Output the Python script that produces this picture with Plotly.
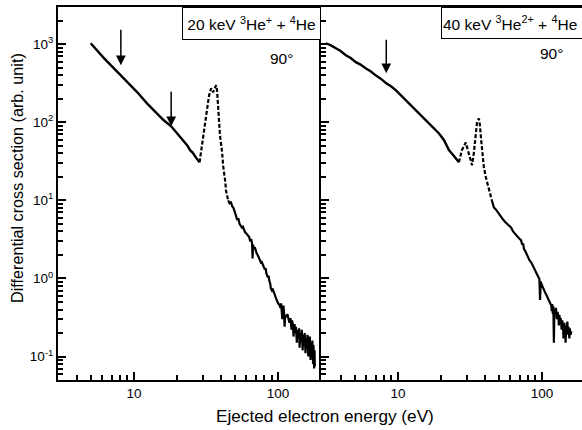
import math
import plotly.graph_objects as go

# ---------------- data ----------------
# Left panel: 20 keV 3He+ + 4He
left_solid1_x = [5.0, 5.5, 6.2, 7.0, 8.1, 9.2, 10.5, 12.3, 14.0, 16.0, 18.1, 20.0, 22.0, 23.5, 24.5, 25.5, 27.0, 28.5]
left_solid1_y = [1030, 840, 660, 525, 400, 314, 244, 175, 137, 107, 89, 72, 58, 50, 44, 41, 35, 30.7]

left_dash_x = [28.5, 30.1, 31.1, 32.2, 33.2, 34.3, 35.4, 35.9, 37.1, 37.7, 38.3, 38.9, 39.5, 40.9, 41.5, 42.9, 43.5, 45.0]
left_dash_y = [30.7, 59, 91.5, 151, 222, 273, 242, 257, 298, 257, 165, 106, 68, 41, 28, 18, 13.4, 10]

left_tail_x = [45, 46, 47, 48, 49, 50, 51, 52, 53, 54, 55, 56, 57, 58, 59, 60, 62, 63, 64, 65, 66, 66.5, 67, 68, 69, 70,
               71, 72.6, 74, 75, 76, 77, 78.7, 80, 81, 82, 83, 85, 86, 87, 88, 89, 90.7, 92, 94, 96, 97, 98, 100, 102,
               104, 105, 106, 107, 108, 109, 110, 111, 112, 114, 116, 118, 120, 122, 124, 125, 127, 128, 130, 132, 133,
               135, 136, 138, 140, 141, 143, 145, 146, 148, 150, 152, 153, 155, 157, 158, 160, 162, 163, 165, 166, 168,
               170, 172, 173, 175, 176, 178, 179, 180]
left_tail_y = [10.0, 9.2, 9.6, 8.4, 8.0, 6.8, 6.4, 5.6, 5.9, 5.0, 4.8, 4.5, 4.6, 4.1, 3.9, 3.8, 3.5, 3.4, 3.0, 3.2, 2.8, 1.8,
               2.7, 2.4, 2.5, 2.2, 2.1, 1.95, 1.8, 1.75, 1.6, 1.62, 1.45, 1.4, 1.3, 1.35, 1.15, 1.03, 1.08, 0.92, 0.88,
               0.75, 0.70, 0.72, 0.62, 0.58, 0.55, 0.52, 0.48, 0.46, 0.42, 0.48, 0.40, 0.30, 0.39, 0.45, 0.36, 0.24,
               0.34, 0.32, 0.35, 0.30, 0.27, 0.31, 0.22, 0.29, 0.25, 0.18, 0.26, 0.20, 0.24, 0.15, 0.22, 0.17, 0.23,
               0.13, 0.20, 0.16, 0.22, 0.12, 0.19, 0.14, 0.20, 0.11, 0.17, 0.13, 0.19, 0.10, 0.16, 0.13, 0.18, 0.09,
               0.15, 0.11, 0.16, 0.08, 0.14, 0.07, 0.12, 0.075]

# Right panel: 40 keV 3He2+ + 4He
right_solid1_x = [3.16, 3.4, 3.71, 4.0, 4.35, 4.7, 5.1, 5.5, 6.0, 6.5, 7.0, 7.6, 8.3, 9.0, 9.7, 10.5, 11.4, 12.3, 13.3,
                  14.4, 15.6, 17.0, 18.4, 19.3, 20.9, 22.6, 24.5, 26.5]
right_solid1_y = [1030, 975, 890, 820, 724, 665, 590, 548, 490, 448, 400, 362, 316, 288, 257, 222, 191, 166, 142,
                  125, 106, 92, 79, 72, 59, 44, 37, 30.7]

right_dash_x = [26.5, 27.8, 29.6, 30.6, 31.6, 32.7, 33.7, 34.3, 34.8, 35.4, 36.5, 37.1, 37.7, 38.9, 39.5, 40.8, 42.9, 45.0]
right_dash_y = [30.7, 44, 55, 44, 34.5, 28.2, 41, 59, 84, 100, 112, 91.5, 64, 38, 26.5, 19.7, 13.4, 9.8]

right_tail_x = [45, 46.4, 48, 49.5, 51, 52.7, 54, 56, 58, 60, 61, 63, 65, 67, 69, 71.5, 73, 74, 75, 77, 78.7, 80, 82,
                84, 86, 88, 90, 92, 94, 96, 97, 98, 100, 102, 104, 106, 108, 110, 112, 114, 116, 117, 118, 119, 120,
                121, 122, 124, 125, 127, 128, 130, 131, 132, 134, 135, 137, 138, 140, 141, 143, 145, 146, 147, 149,
                150, 152, 153, 155, 156, 158, 160]
right_tail_y = [9.8, 8.1, 7.6, 7.0, 6.4, 6.0, 5.6, 5.2, 4.9, 4.6, 4.5, 4.0, 3.7, 3.5, 3.3, 3.1, 2.7, 2.8, 2.4, 2.2,
                1.97, 1.9, 1.7, 1.62, 1.5, 1.4, 1.25, 1.15, 1.05, 0.98, 0.53, 0.91, 0.82, 0.74, 0.70, 0.64, 0.60,
                0.56, 0.52, 0.49, 0.45, 0.38, 0.47, 0.35, 0.44, 0.15, 0.40, 0.36, 0.42, 0.30, 0.37, 0.33, 0.25, 0.34,
                0.28, 0.31, 0.22, 0.29, 0.26, 0.17, 0.27, 0.22, 0.15, 0.25, 0.20, 0.28, 0.19, 0.24, 0.17, 0.23, 0.19,
                0.21]

# arrows: (energy, tip value, tail value)
left_arrows = [(8.1, 538, 1600), (18.1, 89, 257)]
right_arrows = [(8.3, 425, 1195)]

x_tickvals = [10, 100]
x_ticktext = ["10", "100"]
x_minor_vals = [4, 5, 6, 7, 8, 9, 20, 30, 40, 50, 60, 70, 80, 90]
y_tickvals = [0.1, 1, 10, 100, 1000]
y_ticktext = ["10<sup>-1</sup>", "10<sup>0</sup>", "10<sup>1</sup>", "10<sup>2</sup>", "10<sup>3</sup>"]
y_minor_vals = [0.06, 0.07, 0.08, 0.09, 0.2, 0.3, 0.4, 0.5, 0.6, 0.7, 0.8, 0.9,
                2, 3, 4, 5, 6, 7, 8, 9, 20, 30, 40, 50, 60, 70, 80, 90,
                200, 300, 400, 500, 600, 700, 800, 900, 2000]

# ---------------- figure ----------------
W, H = 582, 430
FONT = "Arial, Liberation Sans, Helvetica, sans-serif"
fig = go.Figure()

def add_line(x, y, xa, ya, dash=None, width=2.4):
    fig.add_trace(go.Scatter(x=x, y=y, mode="lines", xaxis=xa, yaxis=ya,
                             line=dict(color="black", width=width, dash=dash),
                             hoverinfo="skip", showlegend=False))

add_line(left_solid1_x, left_solid1_y, "x", "y")
add_line(left_dash_x, left_dash_y, "x", "y", dash="4px,2px", width=2.2)
add_line(left_tail_x, left_tail_y, "x", "y", width=2.2)
add_line(right_solid1_x, right_solid1_y, "x2", "y2")
add_line(right_dash_x, right_dash_y, "x2", "y2", dash="4px,2px", width=2.2)
add_line(right_tail_x, right_tail_y, "x2", "y2", width=2.2)

def px_x(p):
    return p / W

def px_y(p):
    return 1 - p / H

xdom1 = [px_x(58), px_x(320)]
xdom2 = [px_x(321), 1.0]
ydom = [px_y(380), px_y(7)]
xr1 = [0.472, 2.291]
xr2 = [0.466, 2.278]
yr = [math.log10(0.05), math.log10(3000)]

TICKFONT = dict(family=FONT, size=13.5, color="black")
xminor = dict(ticks="inside", ticklen=5, tickwidth=1.5, tickcolor="black", tickmode="array",
              tickvals=x_minor_vals, showgrid=False)
yminor = dict(ticks="inside", ticklen=5, tickwidth=1.5, tickcolor="black", tickmode="array",
              tickvals=y_minor_vals, showgrid=False)
xcommon = dict(type="log", ticks="inside", ticklen=8, tickwidth=1.6, tickcolor="black",
               showline=True, linewidth=2, linecolor="black", mirror=True, showgrid=False,
               zeroline=False, automargin=False, tickmode="array",
               tickvals=x_tickvals, ticktext=x_ticktext, tickfont=TICKFONT, minor=xminor)
ycommon = dict(type="log", range=yr, ticks="inside", ticklen=8,
               tickwidth=1.6, tickcolor="black", showline=True, linewidth=2, linecolor="black",
               mirror=False, showgrid=False, zeroline=False, automargin=False, tickmode="array",
               tickvals=y_tickvals, ticktext=y_ticktext, tickfont=TICKFONT, minor=yminor)

fig.update_layout(
    width=W, height=H, margin=dict(l=0, r=0, t=0, b=0, autoexpand=False),
    paper_bgcolor="white", plot_bgcolor="white", showlegend=False,
    font=dict(family=FONT, color="black"),
    xaxis=dict(xcommon, domain=xdom1, range=xr1, anchor="y"),
    yaxis=dict(ycommon, domain=ydom, anchor="x"),
    xaxis2=dict(xcommon, domain=xdom2, range=xr2, anchor="y2"),
    yaxis2=dict(ycommon, domain=ydom, anchor="x2", showticklabels=False),
)

ann = []
ann.append(dict(text="Ejected electron energy (eV)", xref="paper", yref="paper",
                x=px_x(325), y=px_y(416), xanchor="center", yanchor="middle", showarrow=False,
                font=dict(family=FONT, size=17.2, color="black")))
ann.append(dict(text="Differential cross section (arb. unit)", xref="paper", yref="paper",
                x=px_x(17), y=px_y(178), xanchor="center", yanchor="middle", showarrow=False,
                textangle=-90, font=dict(family=FONT, size=16.2, color="black")))
BOXFONT = dict(family=FONT, size=15.5, color="black")
ann.append(dict(text="20 keV <sup>3</sup>He<sup>+</sup> + <sup>4</sup>He", xref="paper", yref="paper",
                x=px_x(321), y=px_y(7), xanchor="right", yanchor="top", showarrow=False,
                bordercolor="black", borderwidth=1, borderpad=1, bgcolor="white",
                width=135, height=29, font=BOXFONT))
ann.append(dict(text="40 keV <sup>3</sup>He<sup>2+</sup> + <sup>4</sup>He", xref="paper", yref="paper",
                x=px_x(441), y=px_y(7), xanchor="left", yanchor="top", showarrow=False,
                bordercolor="black", borderwidth=1, borderpad=1, bgcolor="white",
                width=160, height=28, align="left", font=BOXFONT))
ann.append(dict(text="90°", xref="paper", yref="paper", x=px_x(281), y=px_y(58),
                xanchor="center", yanchor="middle", showarrow=False, font=BOXFONT))
ann.append(dict(text="90°", xref="paper", yref="paper", x=px_x(551), y=px_y(53),
                xanchor="center", yanchor="middle", showarrow=False, font=BOXFONT))
for (e, tip, tail) in left_arrows:
    ann.append(dict(text="", x=math.log10(e), y=math.log10(tip), xref="x", yref="y",
                    ax=math.log10(e), ay=math.log10(tail), axref="x", ayref="y",
                    showarrow=True, arrowhead=2, arrowsize=1.3, arrowwidth=1.5, arrowcolor="black"))
for (e, tip, tail) in right_arrows:
    ann.append(dict(text="", x=math.log10(e), y=math.log10(tip), xref="x2", yref="y2",
                    ax=math.log10(e), ay=math.log10(tail), axref="x2", ayref="y2",
                    showarrow=True, arrowhead=2, arrowsize=1.3, arrowwidth=1.5, arrowcolor="black"))
fig.update_layout(annotations=ann)

fig.write_html("out.html", config={"displayModeBar": False},
               post_script="document.body.style.margin='0px';document.body.style.overflow='hidden';")
